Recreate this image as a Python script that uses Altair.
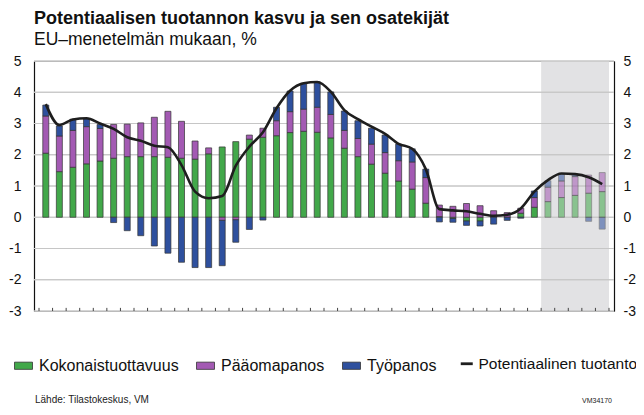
import altair as alt
import pandas as pd

# ---------------- data ----------------
years = list(range(1980, 2022))

kokonaistuottavuus = [2.05, 1.46, 1.60, 1.71, 1.80, 1.89, 1.94, 1.94, 1.94, 1.92,
                      1.89, 1.86, 2.03, 2.25, 2.42, 2.50, 2.56, 2.61, 2.71, 2.75,
                      2.72, 2.54, 2.21, 1.94, 1.70, 1.41, 1.16, 0.90, 0.45, 0.02,
                      -0.04, -0.12, -0.12, 0.00, 0.00, 0.13, 0.32, 0.50, 0.63, 0.70,
                      0.77, 0.82]
paaomapanos = [1.19, 1.14, 1.18, 1.19, 1.04, 1.08, 1.04, 1.08, 1.26, 1.47,
               1.18, 0.58, 0.19, -0.10, -0.08, 0.13, 0.29, 0.48, 0.67, 0.71,
               0.80, 0.75, 0.57, 0.58, 0.64, 0.66, 0.65, 0.87, 0.82, 0.37,
               0.35, 0.44, 0.37, 0.21, 0.15, 0.16, 0.31, 0.46, 0.53, 0.60,
               0.58, 0.61]
tyopanos = [0.35, 0.32, 0.36, 0.25, 0.13, -0.17, -0.43, -0.59, -0.92, -1.15,
            -1.44, -1.61, -1.61, -1.45, -0.72, -0.39, -0.09, 0.43, 0.66, 0.83,
            0.81, 0.72, 0.62, 0.57, 0.51, 0.56, 0.53, 0.42, 0.27, -0.15,
            -0.12, -0.14, -0.16, -0.22, -0.10, -0.03, 0.21, 0.21, 0.22, 0.08,
            -0.13, -0.38]
potentiaalinen = [3.62, 2.95, 3.13, 3.17, 3.00, 2.83, 2.56, 2.45, 2.29, 2.24,
                  1.67, 0.82, 0.61, 0.68, 1.65, 2.26, 2.72, 3.49, 4.05, 4.29,
                  4.33, 4.02, 3.43, 3.14, 2.90, 2.67, 2.35, 2.19, 1.54, 0.26,
                  0.22, 0.19, 0.11, 0.05, 0.08, 0.28, 0.82, 1.19, 1.40, 1.38,
                  1.28, 1.06]

component_names = ["Kokonaistuottavuus", "Pääomapanos", "Työpanos"]
component_colors = ["#42a84a", "#a35ab3", "#2e509e"]
line_name = "Potentiaalinen tuotanto"

forecast_start = 2017
y_ticks = [-3, -2, -1, 0, 1, 2, 3, 4, 5]
x_label_years = list(range(1980, 2021, 2))
x_tick_positions = [1979.5 + i for i in range(43)]

title_text = "Potentiaalisen tuotannon kasvu ja sen osatekijät"
subtitle_text = "EU–menetelmän mukaan, %"
source_text = "Lähde: Tilastokeskus, VM"
code_text = "VM34170"

FONT = "Liberation Sans"

# ---------------- tables ----------------
rows = []
for i, yr in enumerate(years):
    for k, (name, vals) in enumerate(zip(component_names,
                                         [kokonaistuottavuus, paaomapanos, tyopanos])):
        rows.append({"vuosi": yr, "osatekijä": name, "arvo": vals[i],
                     "järjestys": k, "ennuste": yr >= forecast_start})
bars_df = pd.DataFrame(rows)
line_df = pd.DataFrame({"vuosi": years, "arvo": potentiaalinen, "sarja": line_name})
shade_df = pd.DataFrame({"alku": [forecast_start - 0.5], "loppu": [years[-1] + 0.5]})
grid_df = pd.DataFrame({"y": y_ticks})
ticks_df = pd.DataFrame({"x": x_tick_positions})

x_scale = alt.Scale(domain=[years[0] - 0.5, years[-1] + 0.5], nice=False, zero=False)
y_scale = alt.Scale(domain=[y_ticks[0], y_ticks[-1]], nice=False)

# ---------------- layers ----------------
shade = alt.Chart(shade_df).mark_rect(color="#e2e2e4").encode(
    x=alt.X("alku:Q", scale=x_scale, axis=None),
    x2="loppu:Q",
    y=alt.datum(y_ticks[-1], scale=y_scale, axis=None),
    y2=alt.datum(y_ticks[0]),
)

grid_left = alt.Chart(grid_df).mark_rule(color="#c6c6c6", strokeWidth=1).encode(
    y=alt.Y("y:Q", scale=y_scale,
            axis=alt.Axis(orient="left", values=y_ticks, labelExpr="'' + datum.value",
                          ticks=False, grid=False, domain=True, domainColor="#111",
                          domainWidth=1.2, labelFontSize=14, labelColor="#111",
                          labelFont=FONT, labelPadding=13, title=None)),
)
grid_right = alt.Chart(grid_df).mark_rule(color="#c6c6c6", strokeWidth=1).encode(
    y=alt.Y("y:Q", scale=y_scale,
            axis=alt.Axis(orient="right", values=y_ticks, labelExpr="'' + datum.value",
                          ticks=False, grid=False, domain=True, domainColor="#111",
                          domainWidth=1.2, labelFontSize=14, labelColor="#111",
                          labelFont=FONT, labelPadding=9, labelAlign="left", title=None)),
)

bars = alt.Chart(bars_df).mark_bar(size=6, stroke="#333", strokeWidth=0.7).encode(
    x=alt.X("vuosi:Q", scale=x_scale,
            axis=alt.Axis(values=x_label_years,
                          labelExpr="substring(toString(datum.value), 2, 4)",
                          ticks=False, grid=False, domainColor="#111", domainWidth=1.2,
                          labelFontSize=14, labelColor="#111", labelFont=FONT,
                          labelPadding=9, title=None)),
    y=alt.Y("arvo:Q", scale=y_scale, stack="zero", axis=None),
    fill=alt.Fill("osatekijä:N",
                  scale=alt.Scale(domain=component_names, range=component_colors),
                  legend=alt.Legend(orient="none", legendX=-20, legendY=295,
                                    direction="horizontal", title=None,
                                    symbolType="M-1,-0.4H1V0.4H-1Z", symbolSize=324,
                                    symbolStrokeColor="#333", symbolStrokeWidth=0.8,
                                    symbolOpacity=1,
                                    labelFontSize=16, labelFont=FONT, labelColor="#111",
                                    labelOffset=6, columnPadding=15, labelLimit=300)),
    order=alt.Order("järjestys:Q"),
    opacity=alt.condition("datum.ennuste", alt.value(0.55), alt.value(1)),
)

line = alt.Chart(line_df).mark_line(strokeWidth=2.6, interpolate="monotone").encode(
    x=alt.X("vuosi:Q", scale=x_scale, axis=None),
    y=alt.Y("arvo:Q", scale=y_scale, axis=None),
    stroke=alt.Stroke("sarja:N", scale=alt.Scale(domain=[line_name], range=["#1e1e1e"]),
                      legend=alt.Legend(orient="none", legendX=425, legendY=295,
                                        title=None, symbolType="stroke", symbolSize=144,
                                        symbolStrokeWidth=2.8,
                                        labelFontSize=15.5, labelFont=FONT,
                                        labelColor="#111", labelOffset=4,
                                        labelLimit=300)),
)

ticks = alt.Chart(ticks_df).mark_rule(color="#444", strokeWidth=1).encode(
    x=alt.X("x:Q", scale=x_scale, axis=None),
    y=alt.datum(y_ticks[0], scale=y_scale, axis=None),
    y2=alt.datum(y_ticks[0] + 0.1),
)

source = alt.Chart(pd.DataFrame({"t": [source_text]})).mark_text(
    align="left", baseline="middle", fontSize=10, font=FONT, color="#222"
).encode(x=alt.value(1), y=alt.value(339), text="t:N")

code = alt.Chart(pd.DataFrame({"t": [code_text]})).mark_text(
    align="right", baseline="middle", fontSize=7, font=FONT, color="#222"
).encode(x=alt.value(578), y=alt.value(340), text="t:N")

chart = alt.layer(shade, grid_left, grid_right, bars, line, ticks, source, code).resolve_axis(
    y="independent"
).properties(
    width=580,
    height=250,
    autosize=alt.AutoSizeParams(type="none"),
    padding={"left": 26, "top": 53, "right": 22, "bottom": 94},
    title=alt.Title(title_text, subtitle=subtitle_text, anchor="start", frame="group",
                    font=FONT, fontSize=18, fontWeight="bold", color="#111",
                    subtitleFont=FONT, subtitleFontSize=17.5, subtitleColor="#111",
                    subtitlePadding=3, offset=6),
).configure_view(stroke="#9a9a9a", strokeWidth=1)

chart.save("out.html", embed_options={"renderer": "svg", "actions": False})
